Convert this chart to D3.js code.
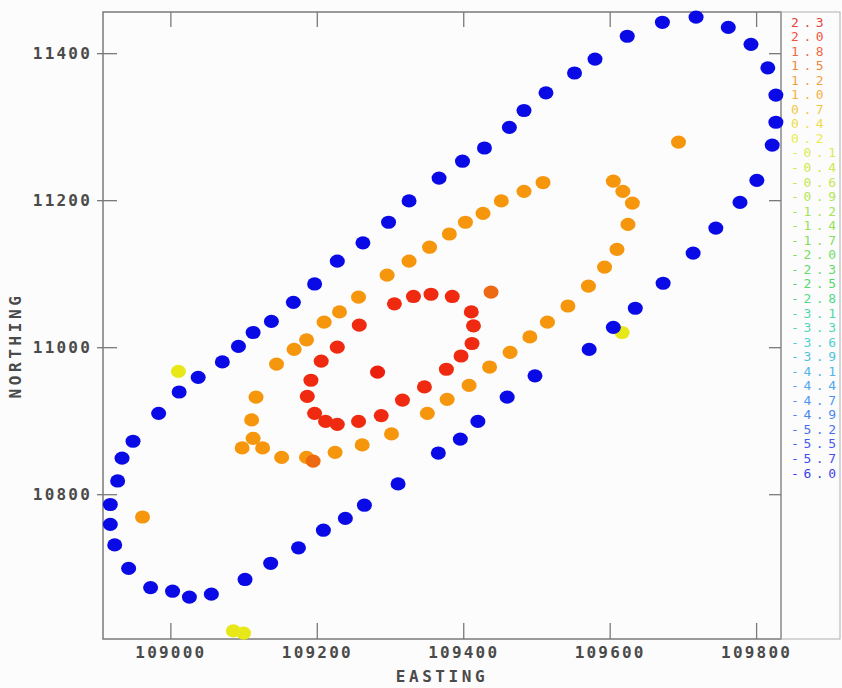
<!DOCTYPE html>
<html><head><meta charset="utf-8">
<script src="https://cdn.jsdelivr.net/npm/d3@7"></script>
<style>html,body{margin:0;padding:0;background:#fcfcfc;} svg{display:block;}</style>
</head><body><svg id="c" width="842" height="688"></svg>
<script>
const xTicks = [109000, 109200, 109400, 109600, 109800];
const yTicks = [10800, 11000, 11200, 11400];
const legendLabels = ["2.3","2.0","1.8","1.5","1.2","1.0","0.7","0.4","0.2","-0.1","-0.4","-0.6","-0.9","-1.2","-1.4","-1.7","-2.0","-2.3","-2.5","-2.8","-3.1","-3.3","-3.6","-3.9","-4.1","-4.4","-4.7","-4.9","-5.2","-5.5","-5.7","-6.0"];

// [EASTING, NORTHING] per series; series value drives colour
const yellowDots = [[109011,10967],[109086,10614],[109100,10611],[109617,11020]];
const yellowValue = 0.2;
const blueDots = [
 [108918,10786],[108928,10818],[108934,10849],[108949,10872],[108984,10910],[109012,10939],
 [109038,10959],[109071,10980],[109093,11001],[109113,11020],[109138,11035],[109168,11061],
 [109197,11086],[109228,11117],[109263,11142],[109298,11170],[109326,11199],[109367,11230],
 [109399,11253],[109429,11271],[109463,11299],[109483,11322],[109513,11346],[109552,11373],
 [109580,11392],[109624,11423],[109672,11442],[109718,11449],[109762,11435],[109793,11412],
 [109816,11380],[109827,11343],[109827,11306],[109822,11275],[109801,11227],[109778,11197],
 [109745,11162],[109714,11128],[109673,11087],[109635,11053],[109605,11027],[109572,10997],
 [109498,10961],[109460,10932],[109420,10899],[109396,10875],[109366,10856],[109311,10814],
 [109265,10785],[109239,10767],[109209,10751],[109175,10727],[109137,10706],[109102,10684],
 [109056,10664],[109026,10660],[109003,10668],[108973,10673],[108943,10699],[108924,10731],
 [108918,10759]];
const blueValue = -6.0;
const orangeDots = [
 [108962,10769],[109117,10932],[109111,10901],[109113,10876],[109098,10863],[109126,10863],
 [109152,10850],[109186,10850],[109225,10857],[109262,10867],[109302,10882],[109351,10910],
 [109378,10929],[109408,10948],[109436,10973],[109464,10993],[109491,11014],[109515,11034],
 [109543,11056],[109571,11083],[109593,11109],[109610,11133],[109625,11167],[109631,11196],
 [109618,11212],[109605,11226],[109694,11279],[109145,10977],[109169,10997],[109186,11010],
 [109210,11034],[109231,11048],[109257,11068],[109296,11098],[109326,11117],[109354,11136],
 [109381,11154],[109403,11170],[109427,11182],[109452,11199],[109483,11212],[109509,11224]];
const orangeValue = 1.1;
const darkOrangeDots = [[109195,10845],[109438,11075]];
const darkOrangeValue = 1.5;
const redDots = [
 [109258,11030],[109228,11000],[109206,10981],[109192,10955],[109187,10933],[109197,10910],
 [109212,10899],[109228,10895],[109257,10899],[109288,10907],[109317,10928],[109347,10946],
 [109306,11059],[109332,11069],[109356,11072],[109385,11069],[109411,11048],[109414,11029],
 [109412,11005],[109397,10988],[109377,10970]];
const redValue = 2.0;
const deepRedDots = [[109283,10966]];
const deepRedValue = 2.1;

const svg = d3.select('#c');
svg.append('rect').attr('width',842).attr('height',688).attr('fill','#fcfcfc');
const L=103,R=781,T=12,B=639;
const x = d3.scaleLinear().domain([108908,109834]).range([L,R]);
const y = d3.scaleLinear().domain([10603,11456]).range([B,T]);
const color = d3.scaleLinear()
  .domain([2.3,2.0,1.5,1.1,0.2,-1.0,-2.5,-3.5,-4.5,-6.0])
  .range(['#e60a0a','#ef2a10','#ee6a12','#f5960c','#e8e818','#9be02a','#2ed24a','#22cfc0','#2a8cf0','#0a0ae6']);

const font = "'DejaVu Sans Mono', monospace";
const axColor = '#7a7a7a';
const txtColor = '#4a4a4a';

// frame
svg.append('rect').attr('x',L).attr('y',T).attr('width',R-L).attr('height',B-T)
  .attr('fill','none').attr('stroke',axColor).attr('stroke-width',1.5);
svg.append('rect').attr('x',R).attr('y',T).attr('width',59).attr('height',B-T)
  .attr('fill','none').attr('stroke','#b0b0b0').attr('stroke-width',1);

function styleAxis(g){
  g.select('.domain').remove();
  g.selectAll('line').attr('stroke',axColor).attr('stroke-width',1.3);
  g.selectAll('text').attr('fill',txtColor).style('font-family',font).style('font-size','16px')
    .style('font-weight','bold').style('letter-spacing','2.2px');
}
// bottom
svg.append('g').attr('transform',`translate(0,${B})`)
  .call(d3.axisBottom(x).tickValues(xTicks).tickSize(-16).tickPadding(8).tickFormat(d3.format('d'))).call(styleAxis);
// top
svg.append('g').attr('transform',`translate(0,${T})`)
  .call(d3.axisTop(x).tickValues(xTicks).tickSize(-15).tickFormat('')).call(styleAxis);
// left labels + outer ticks
svg.append('g').attr('transform',`translate(${L},0)`)
  .call(d3.axisLeft(y).tickValues(yTicks).tickSize(6).tickPadding(5).tickFormat(d3.format('d'))).call(styleAxis);
svg.append('g').attr('transform',`translate(${L},0)`)
  .call(d3.axisRight(y).tickValues(yTicks).tickSize(14).tickFormat('')).call(styleAxis);
// right inner ticks
svg.append('g').attr('transform',`translate(${R},0)`)
  .call(d3.axisLeft(y).tickValues(yTicks).tickSize(12).tickFormat('')).call(styleAxis);

// axis titles
svg.append('text').attr('x',(L+R)/2).attr('y',682).attr('text-anchor','middle')
  .attr('fill',txtColor).style('font-family',font).style('font-size','16px').style('font-weight','bold')
  .style('letter-spacing','3.6px').text('EASTING');
svg.append('text').attr('transform',`translate(21,${(T+B)/2+20}) rotate(-90)`).attr('text-anchor','middle')
  .attr('fill',txtColor).style('font-family',font).style('font-size','16px').style('font-weight','bold')
  .style('letter-spacing','3.6px').text('NORTHING');

// dots
const plot = svg.append('g');
function drawSeries(data, val){
  plot.selectAll(null).data(data).enter().append('ellipse')
    .attr('cx',d=>x(d[0])).attr('cy',d=>y(d[1])).attr('rx',7.5).attr('ry',6.6)
    .attr('fill',color(val));
}
drawSeries(yellowDots, yellowValue);
drawSeries(blueDots, blueValue);
drawSeries(orangeDots, orangeValue);
drawSeries(darkOrangeDots, darkOrangeValue);
drawSeries(redDots, redValue);
drawSeries(deepRedDots, deepRedValue);

// legend
const ly = d3.scalePoint().domain(legendLabels).range([22,473]);
svg.append('g').selectAll('text').data(legendLabels).enter().append('text')
  .attr('x',791).attr('y',d=>ly(d)).attr('dy','0.35em')
  .attr('fill',d=>color(+d)).attr('opacity',0.8)
  .style('font-family',font).style('font-size','13px').style('letter-spacing','4.6px')
  .text(d=>d);
</script></body></html>
